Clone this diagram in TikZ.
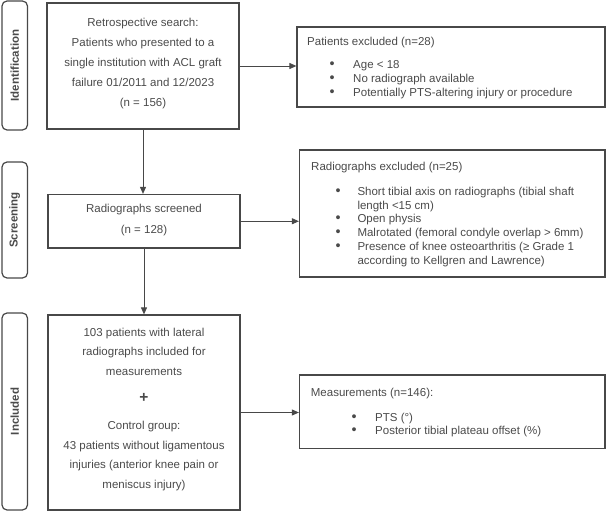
\documentclass[tikz,border=0pt]{standalone}
\usepackage{fontspec}
\setmainfont{Liberation Sans}
\usetikzlibrary{arrows.meta}
\definecolor{ln}{HTML}{484848}
\definecolor{tx}{HTML}{4A4A4A}
\newcommand\fl{\rule{0pt}{9pt}}
\newcommand\bul[2]{\hspace*{#1}\makebox[#2][l]{\scalebox{1.25}{•}}}
\begin{document}
\begin{tikzpicture}[x=1pt,y=-1pt,
  box/.style={draw=ln, line width=1.2pt, rectangle, inner sep=0pt},
  side/.style={draw=ln, line width=1.2pt, rounded corners=5pt, rotate=90, inner sep=0pt, text=tx, font=\bfseries\fontsize{11.5}{14}\selectfont},
  ctext/.style={anchor=north, align=center, inner sep=0pt, text=tx},
  ltext/.style={anchor=north west, align=left, inner sep=0pt, text=tx},
  arr/.style={draw=ln, line width=0.9pt, -{Triangle[length=7pt,width=6pt]}}]
\useasboundingbox (0,0) rectangle (606,511);
% side labels
\node[side, minimum width=129pt, minimum height=25.5pt] (s1) at (14.75,65.5) {Identification};
\node[side, minimum width=116pt, minimum height=25.5pt] (s2) at (14.75,220) {Screening};
\node[side, minimum width=197pt, minimum height=25.5pt] (s3) at (14.75,411.5) {Included};
% main boxes
\node[box, minimum width=192pt, minimum height=126pt] (b1) at (143,66) {};
\node[box, minimum width=192pt, minimum height=53.5pt] (b2) at (144,221.25) {};
\node[box, minimum width=192pt, minimum height=195pt] (b3) at (144,412.5) {};
% right boxes
\node[box, minimum width=308pt, minimum height=80pt] (e1) at (451,67) {};
\node[box, minimum width=305.5pt, minimum height=127pt] (e2) at (452.25,213.5) {};
\node[box, minimum width=305.5pt, minimum height=73.5pt] (m) at (452.25,411.75) {};
% texts
\node[ctext, font=\fontsize{11.5}{20}\selectfont] (t1) at (143,17) {\fl Retrospective search:\\Patients who presented to a\\single institution with ACL graft\\failure 01/2011 and 12/2023\\(n = 156)};
\node[ctext, font=\fontsize{11.5}{20.5}\selectfont] (t2) at (144,203.5) {\fl Radiographs screened\\(n = 128)};
\node[ctext, font=\fontsize{11.5}{19.5}\selectfont] (t3) at (144,327) {\fl 103 patients with lateral\\radiographs included for\\measurements\\[8pt]{\bfseries\fontsize{15.5}{15.5}\selectfont +}\\[7.5pt]Control group:\\43 patients without ligamentous\\injuries (anterior knee pain or\\meniscus injury)};
\node[ltext, font=\fontsize{11.5}{14}\selectfont] (te1) at (307,36) {\fl Patients excluded (n=28)\\[9.5pt]\bul{22.5pt}{23.5pt}Age < 18\\\bul{22.5pt}{23.5pt}No radiograph available\\\bul{22.5pt}{23.5pt}Potentially PTS-altering injury or procedure};
\node[ltext, font=\fontsize{11.5}{13.8}\selectfont] (te2) at (311,161) {\fl Radiographs excluded (n=25)\\[11.2pt]\bul{24.3pt}{22pt}Short tibial axis on radiographs (tibial shaft\\\hspace*{46.3pt}length <15 cm)\\\bul{24.3pt}{22pt}Open physis\\\bul{24.3pt}{22pt}Malrotated (femoral condyle overlap > 6mm)\\\bul{24.3pt}{22pt}Presence of knee osteoarthritis (≥ Grade 1\\\hspace*{46.3pt}according to Kellgren and Lawrence)};
\node[ltext, font=\fontsize{11.5}{13}\selectfont] (tm) at (310.7,387) {\fl Measurements (n=146):\\[12pt]\bul{40.6pt}{23.7pt}PTS (°)\\\bul{40.6pt}{23.7pt}Posterior tibial plateau offset (\%)};
% connectors
\draw[arr] (b1.south) -- (b1.south |- b2.north);
\draw[arr] (b2.south) -- (b2.south |- b3.north);
\draw[arr] (b1.east) -- (b1.east -| e1.west);
\draw[arr] (b2.east) -- (b2.east -| e2.west);
\draw[arr] (b3.east) -- (b3.east -| m.west);
\end{tikzpicture}
\end{document}
